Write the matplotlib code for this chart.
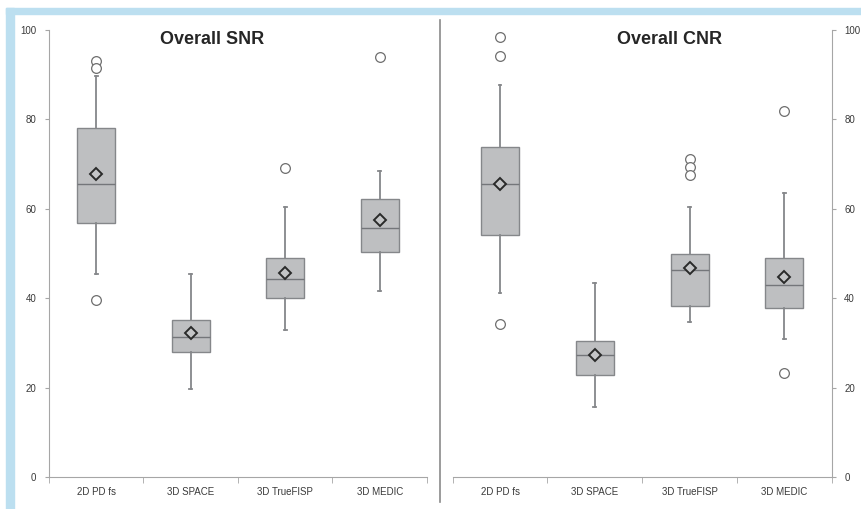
import numpy as np
import matplotlib
matplotlib.use("Agg")
import matplotlib.pyplot as plt
from matplotlib.patches import Rectangle
from matplotlib.lines import Line2D

plt.rcParams['font.family'] = ['Liberation Sans', 'DejaVu Sans']

sequences = ['2D PD fs', '3D SPACE', '3D TrueFISP', '3D MEDIC']

# SNR summary statistics per sequence
snr_q1 = [56.9, 27.9, 40.1, 50.4]
snr_med = [65.5, 31.4, 44.3, 55.8]
snr_q3 = [78.1, 35.1, 48.9, 62.1]
snr_lo = [45.4, 19.6, 32.8, 41.7]
snr_hi = [89.6, 45.4, 60.5, 68.5]
snr_mean = [67.8, 32.3, 45.6, 57.5]
snr_out = [[93.0, 91.4, 39.7], [], [69.1], [93.9]]

# CNR summary statistics per sequence
cnr_q1 = [54.1, 22.8, 38.3, 37.7]
cnr_med = [65.5, 27.2, 46.2, 43.0]
cnr_q3 = [73.9, 30.5, 49.9, 49.0]
cnr_lo = [41.2, 15.7, 34.7, 30.9]
cnr_hi = [87.6, 43.5, 60.3, 63.6]
cnr_mean = [65.5, 27.2, 46.8, 44.8]
cnr_out = [[98.5, 94.2, 34.2], [], [71.1, 69.4, 67.6], [81.9, 23.3]]

yticks = [0, 20, 40, 60, 80, 100]

BOX_FILL = '#bebfc1'
BOX_EDGE = '#85878a'
AXIS_COL = '#a6a6a6'
TEXT_COL = '#3a3a3a'


def make_stats(q1, med, q3, lo, hi, mean, out):
    stats = []
    for i in range(len(q1)):
        stats.append(dict(q1=q1[i], med=med[i], q3=q3[i], whislo=lo[i],
                          whishi=hi[i], mean=mean[i], fliers=out[i]))
    return stats


def draw_panel(ax, stats, title, title_x, right_side=False):
    ax.bxp(stats, positions=[1, 2, 3, 4], widths=0.4, patch_artist=True,
           showmeans=True, showfliers=True, capwidths=0.03,
           boxprops=dict(facecolor=BOX_FILL, edgecolor=BOX_EDGE, linewidth=1.0),
           medianprops=dict(color='#74767a', linewidth=1.0),
           whiskerprops=dict(color=BOX_EDGE, linewidth=1.3),
           capprops=dict(color=BOX_EDGE, linewidth=1.3),
           meanprops=dict(marker='D', markersize=6, markerfacecolor='#c4c5c7',
                          markeredgecolor='#2a2a2a', markeredgewidth=1.4),
           flierprops=dict(marker='o', markersize=7, markerfacecolor='white',
                           markeredgecolor='#6e6e6e', markeredgewidth=0.9))
    ax.set_xlim(0.5, 4.5)
    ax.set_ylim(0, 100)
    ax.set_yticks(yticks)
    ax.set_xticks([1, 2, 3, 4])
    ax.set_xticklabels(sequences, fontsize=7, color=TEXT_COL)
    ax.set_xticks([0.5, 1.5, 2.5, 3.5, 4.5], minor=True)
    ax.tick_params(axis='x', which='major', length=0, pad=7)
    ax.tick_params(axis='x', which='minor', length=4, color=AXIS_COL, direction='out')
    ax.tick_params(axis='y', labelsize=7, labelcolor=TEXT_COL, length=3,
                   color=AXIS_COL, pad=6)
    for side in ['top', 'right', 'left', 'bottom']:
        ax.spines[side].set_visible(False)
    ax.spines['bottom'].set_visible(True)
    ax.spines['bottom'].set_color(AXIS_COL)
    if right_side:
        ax.yaxis.tick_right()
        ax.spines['right'].set_visible(True)
        ax.spines['right'].set_color(AXIS_COL)
    else:
        ax.spines['left'].set_visible(True)
        ax.spines['left'].set_color(AXIS_COL)
    ax.text(title_x, 0.978, title, transform=ax.transAxes, ha='center',
            va='center', fontsize=13, fontweight='bold', color='#262626')


fig = plt.figure(figsize=(8.62, 5.09), dpi=100)

# light blue frame along the top and left edges
fig.patches.append(Rectangle((6 / 862, 0), 8 / 862, 1 - 8 / 509,
                             transform=fig.transFigure, color='#bcdff0', zorder=0))
fig.patches.append(Rectangle((6 / 862, 1 - 14 / 509), 1 - 6 / 862, 6 / 509,
                             transform=fig.transFigure, color='#bcdff0', zorder=0))

ax1 = fig.add_axes([49 / 862, 32 / 509, 378 / 862, 447 / 509])
ax2 = fig.add_axes([452.7 / 862, 32 / 509, 379 / 862, 447 / 509])

draw_panel(ax1, make_stats(snr_q1, snr_med, snr_q3, snr_lo, snr_hi, snr_mean, snr_out),
           'Overall SNR', 0.431)
draw_panel(ax2, make_stats(cnr_q1, cnr_med, cnr_q3, cnr_lo, cnr_hi, cnr_mean, cnr_out),
           'Overall CNR', 0.573, right_side=True)

# divider between the two panels
fig.add_artist(Line2D([440 / 862, 440 / 862], [1 - 502 / 509, 1 - 20 / 509],
                      transform=fig.transFigure, color='#8a8a8a', linewidth=1.2))

fig.savefig('out.png', dpi=100)
